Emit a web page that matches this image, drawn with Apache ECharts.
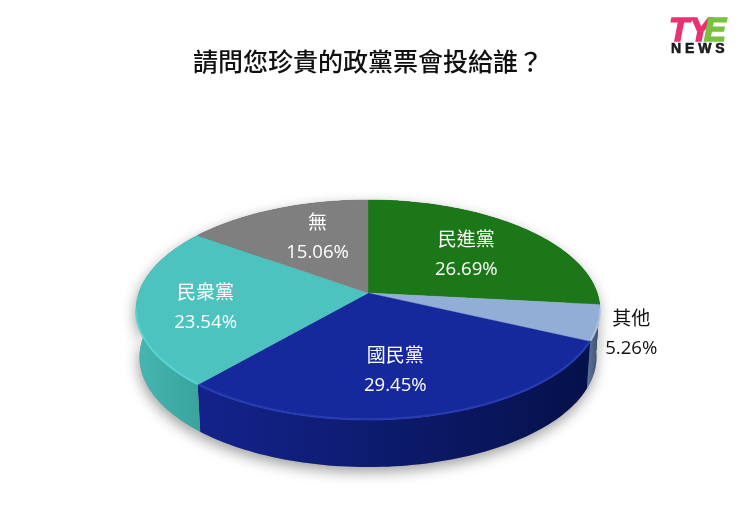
<!DOCTYPE html>
<html><head><meta charset="utf-8">
<style>html,body{margin:0;padding:0;background:#fff}#c{width:740px;height:522px}</style>
<script src="https://cdn.jsdelivr.net/npm/echarts@6/dist/echarts.min.js"></script>
</head><body><div id="c"></div>
<script>
const categories = ['民進黨','其他','國民黨','民衆黨','無'];
const shares = [26.69,5.26,29.45,23.54,15.06];
const topColors = ['#1b7718','#92aed6','#15299c','#4dc3bf','#7f7f7f'];
const rimColors = ['#2a8a26','#b4c8e4','#2b40b8','#58d6d6','#8f8f8f'];
const sideFrom = ['#155f14','#5f769e','#14238c','#46b6b0','#666666'];
const sideTo = ['#0e4a0e','#39496a','#05114a','#3aa39e','#555555'];
const labelColors = ['#fff','#111','#fff','#fff','#fff'];
const labelPlace = [[.62,-1,4],[1.14,-1,6],[.65,-7,2],[.7,-1,6],[.55,3,-6]];

const CX=368,CY=293,A=229.2,B=107.4,K=.1546,DEPTH=47,SHRINK=.985;
const total = shares.reduce((a,b)=>a+b,0);
const starts = []; shares.reduce((s,v,i)=>(starts[i]=s,s+v),0);
const ang = p => p/total*2*Math.PI;
function proj(t,r){const u=r*Math.sin(t),v=r*Math.cos(t),d=1+K*v;return [CX+A*u/d,CY-B*v/d];}
function low(p){return [CX+(p[0]-CX)*SHRINK,p[1]+DEPTH];}
function rim(t0,t1){const n=Math.max(2,Math.ceil((t1-t0)*40)),o=[];for(let i=0;i<=n;i++)o.push(proj(t0+(t1-t0)*i/n,1));return o;}
function sidePts(i,v){const t0=ang(starts[i]),t1=ang(starts[i]+v),r=rim(t0,t1);return r.concat(r.map(low).reverse());}
const seriesData = categories.map((n,i)=>({name:n,value:shares[i]}));

const chart = echarts.init(document.getElementById('c'),null,{renderer:'canvas'});
chart.setOption({
 animation:false,backgroundColor:'#fff',
 title:{text:'請問您珍貴的政黨票會投給誰？',left:363,top:44,textAlign:'center',
   textStyle:{fontFamily:'"Noto Sans CJK TC"',fontSize:25,fontWeight:500,color:'#111'}},
 graphic:[
  {type:'text',x:669,y:15,style:{text:'TY',font:'italic 900 33px "Liberation Sans"',fill:'#e9326f',stroke:'#e9326f',lineWidth:1.6}},
  {type:'text',x:704,y:15,style:{text:'E',font:'italic 900 33px "Liberation Sans"',fill:'#79c143',stroke:'#79c143',lineWidth:1.6}},
  {type:'text',x:671,y:42,style:{text:'N E W S',font:'900 14px "Liberation Sans"',fill:'#1a1a1a',stroke:'#1a1a1a',lineWidth:.6}}
 ],
 series:[
  {type:'custom',coordinateSystem:'none',z:1,silent:true,data:seriesData,
   renderItem:(p,api)=>({type:'polygon',shape:{points:sidePts(p.dataIndex,api.value(0))},
     style:{fill:'#999',shadowBlur:14,shadowColor:'rgba(0,0,0,.38)',shadowOffsetX:-1,shadowOffsetY:5}})},
  {type:'custom',coordinateSystem:'none',z:2,silent:true,data:seriesData,
   renderItem:(p,api)=>{const i=p.dataIndex;return {type:'polygon',shape:{points:sidePts(i,api.value(0))},
     style:{fill:{type:'linear',x:0,y:0,x2:1,y2:0,colorStops:[{offset:0,color:sideFrom[i]},{offset:1,color:sideTo[i]}]},stroke:null}};}},
  {type:'custom',coordinateSystem:'none',z:3,silent:true,data:seriesData,
   renderItem:(p,api)=>{const i=p.dataIndex,v=api.value(0),t0=ang(starts[i]),t1=ang(starts[i]+v);
     const r=rim(t0,t1);
     const kids=[{type:'polygon',shape:{points:[[CX,CY]].concat(r)},style:{fill:topColors[i],stroke:topColors[i],lineWidth:.4}}];
     const a=Math.max(t0,1.72),b=Math.min(t1,4.56);
     if(b>a) kids.push({type:'polyline',shape:{points:rim(a,b).map(q=>[q[0],q[1]-.8])},style:{fill:null,stroke:rimColors[i],lineWidth:2.2,opacity:.8}});
     return {type:'group',children:kids};}},
  {type:'custom',coordinateSystem:'none',z:4,silent:true,data:seriesData,
   renderItem:(p,api)=>{const i=p.dataIndex,v=api.value(0),m=ang(starts[i]+v/2),lp=labelPlace[i],q=proj(m,lp[0]);
     const x=q[0]+lp[1],y=q[1]+lp[2];
     return {type:'group',children:[
      {type:'text',style:{x:x,y:y-16,text:categories[i],align:'center',verticalAlign:'middle',fill:labelColors[i],font:'400 19px "Noto Sans CJK TC"'}},
      {type:'text',style:{x:x,y:y+15,text:v.toFixed(2)+'%',align:'center',verticalAlign:'middle',fill:labelColors[i],font:'400 18.6px "Open Sans"'}}
     ]};}}
 ]
});
</script></body></html>
